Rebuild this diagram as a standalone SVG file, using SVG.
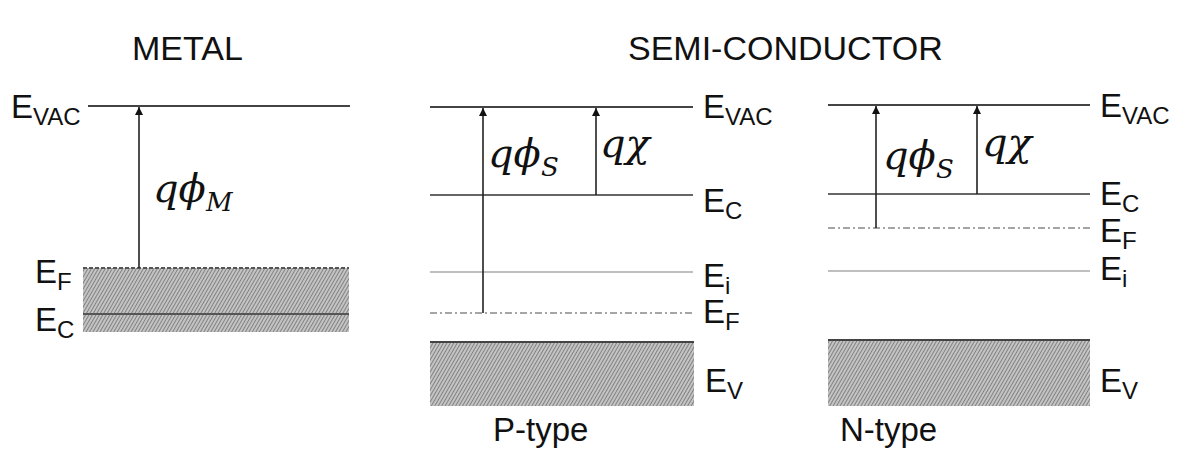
<svg xmlns="http://www.w3.org/2000/svg" width="1178" height="467" viewBox="0 0 1178 467">
<style>
.t{font-family:"Liberation Sans",Arial,sans-serif;fill:#111;}
.lab{font-family:"Liberation Sans",Arial,sans-serif;font-size:33px;fill:#111;}
.sub{font-size:24px;}
.m{font-family:"DejaVu Serif","Liberation Serif",serif;font-style:italic;font-size:40px;fill:#111;}
.ms{font-size:26px;}
.vac{stroke:#444;stroke-width:2.2;}
.ec{stroke:#666;stroke-width:1.8;}
.ei{stroke:#aaa;stroke-width:1.4;}
.ef{stroke:#888;stroke-width:1.6;stroke-dasharray:7 3 2 3;}
.arr{stroke:#222;stroke-width:1.6;fill:none;marker-end:url(#ah);}
</style>
<defs>
<marker id="ah" viewBox="0 0 10 10" refX="10" refY="5" markerWidth="8" markerHeight="8" markerUnits="userSpaceOnUse" orient="auto">
<path d="M0,0 L10,5 L0,10 z" fill="#111"/>
</marker>
<pattern id="hatch" patternUnits="userSpaceOnUse" width="3" height="3" patternTransform="rotate(30)">
<rect width="3" height="3" fill="#c4c4c4"/>
<line x1="0" y1="0" x2="0" y2="3" stroke="#666" stroke-width="1.4"/>
</pattern>
</defs>

<text class="t" x="132" y="60" font-size="34">METAL</text>
<text class="t" x="628" y="60" font-size="34">SEMI-CONDUCTOR</text>

<g id="metal">
<rect x="83" y="268" width="266" height="64" fill="url(#hatch)"/>
<line class="vac" x1="88" y1="106" x2="350" y2="106"/>
<line x1="83" y1="268" x2="349" y2="268" stroke="#555" stroke-width="1.8" stroke-dasharray="4 2"/>
<line x1="83" y1="314" x2="349" y2="314" stroke="#555" stroke-width="1.8"/>
<text class="lab" x="11" y="118">E<tspan class="sub" dy="7">VAC</tspan></text>
<text class="lab" x="35" y="283">E<tspan class="sub" dy="7">F</tspan></text>
<text class="lab" x="35" y="331">E<tspan class="sub" dy="7">C</tspan></text>
<text class="m" x="153" y="202">q&#x3D5;<tspan class="ms" dy="9">M</tspan></text>
</g>

<g id="ptype">
<rect x="430" y="341" width="264" height="65" fill="url(#hatch)"/>
<line x1="430" y1="342" x2="694" y2="342" stroke="#444" stroke-width="2"/>
<line class="vac" x1="430" y1="107" x2="693" y2="107"/>
<line class="ec" x1="430" y1="195" x2="693" y2="195"/>
<line class="ei" x1="430" y1="272" x2="693" y2="272"/>
<line class="ef" x1="430" y1="313" x2="693" y2="313"/>
<text class="lab" x="703" y="118">E<tspan class="sub" dy="7">VAC</tspan></text>
<text class="lab" x="703" y="212">E<tspan class="sub" dy="7">C</tspan></text>
<text class="lab" x="703" y="287">E<tspan class="sub" dy="7">i</tspan></text>
<text class="lab" x="703" y="323">E<tspan class="sub" dy="7">F</tspan></text>
<text class="lab" x="705" y="392">E<tspan class="sub" dy="7">V</tspan></text>
<text class="m" x="488" y="167">q&#x3D5;<tspan class="ms" dy="9">S</tspan></text>
<text class="m" x="600" y="157">q&#x3C7;</text>
<text class="t" x="493" y="441" font-size="33">P-type</text>
</g>

<g id="ntype">
<rect x="828" y="340" width="262" height="66" fill="url(#hatch)"/>
<line x1="828" y1="340" x2="1090" y2="340" stroke="#444" stroke-width="2"/>
<line class="vac" x1="828" y1="105" x2="1090" y2="105"/>
<line class="ec" x1="828" y1="194" x2="1090" y2="194"/>
<line class="ef" x1="828" y1="228" x2="1090" y2="228"/>
<line class="ei" x1="828" y1="271" x2="1090" y2="271"/>
<text class="lab" x="1100" y="117">E<tspan class="sub" dy="7">VAC</tspan></text>
<text class="lab" x="1100" y="205">E<tspan class="sub" dy="7">C</tspan></text>
<text class="lab" x="1100" y="242">E<tspan class="sub" dy="7">F</tspan></text>
<text class="lab" x="1100" y="280">E<tspan class="sub" dy="7">i</tspan></text>
<text class="lab" x="1100" y="392">E<tspan class="sub" dy="7">V</tspan></text>
<text class="m" x="883" y="169">q&#x3D5;<tspan class="ms" dy="9">S</tspan></text>
<text class="m" x="982" y="156">q&#x3C7;</text>
<text class="t" x="840" y="441" font-size="33">N-type</text>
</g>

<g id="connectors">
<path class="arr" d="M139,268 L139,107"/>
<path class="arr" d="M483,313 L483,108"/>
<path class="arr" d="M596,195 L596,108"/>
<path class="arr" d="M876,228 L876,106"/>
<path class="arr" d="M977,194 L977,106"/>
</g>
</svg>
